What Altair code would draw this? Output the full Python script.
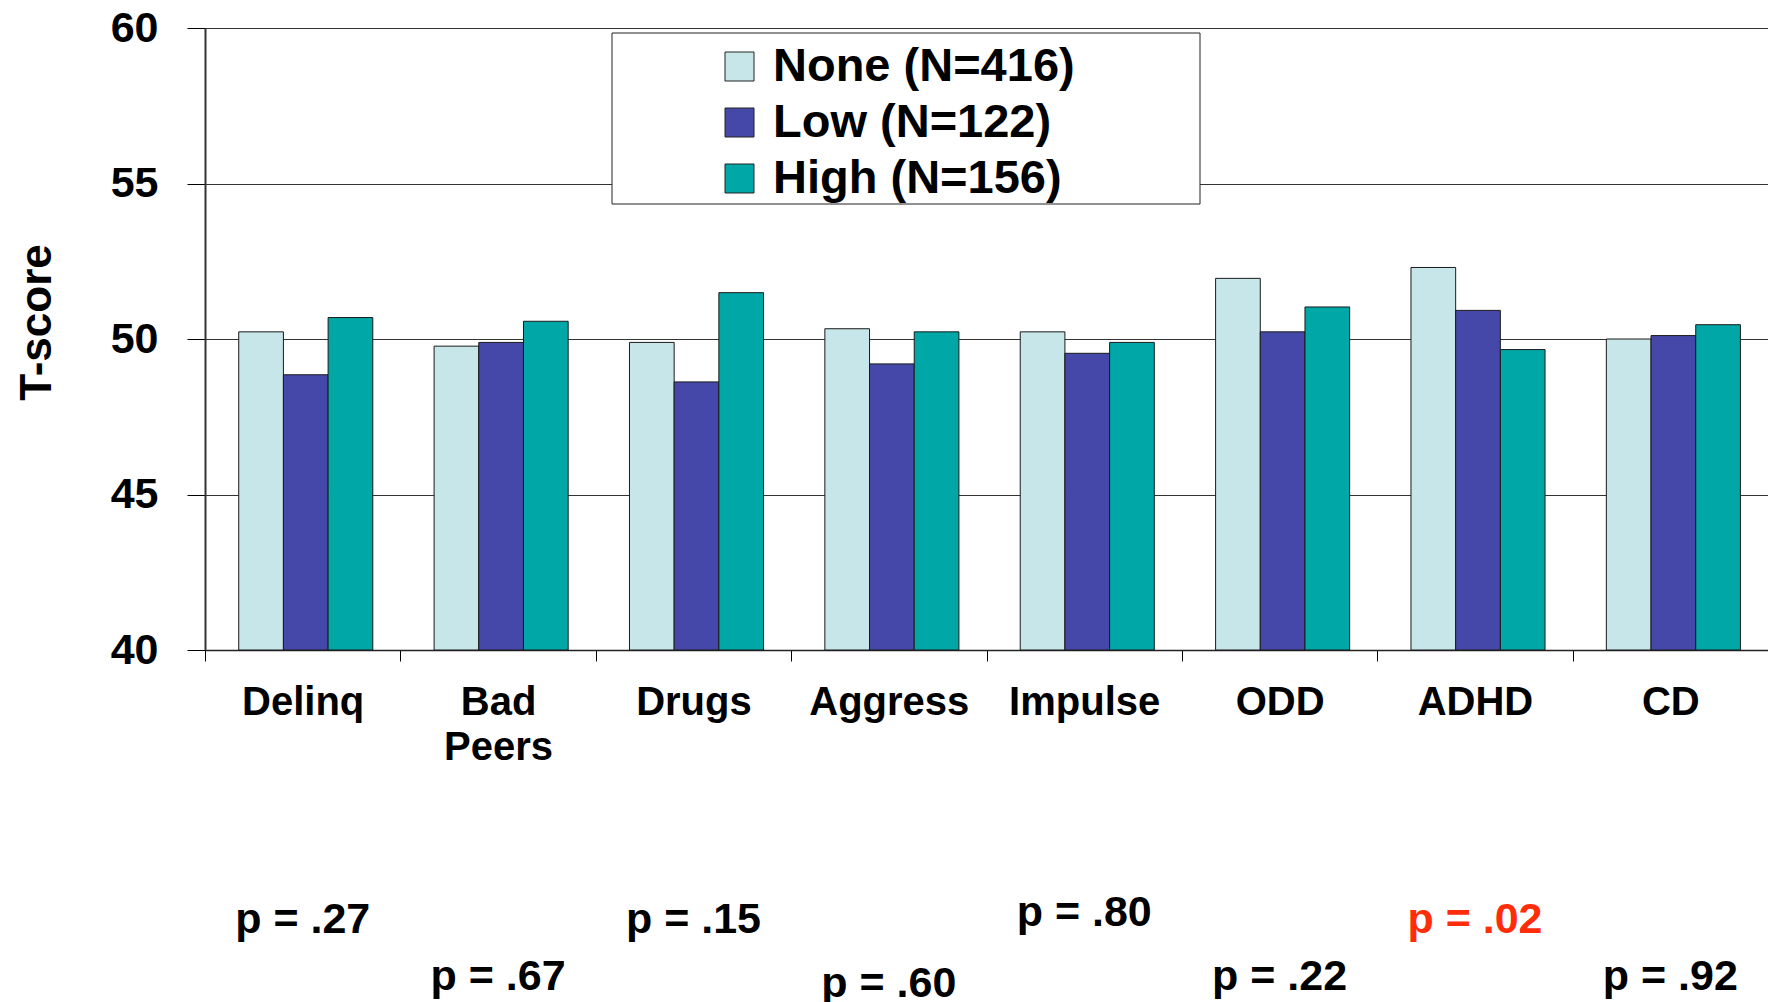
import altair as alt
import pandas as pd

categories = ["Delinq", "Bad Peers", "Drugs", "Aggress", "Impulse", "ODD", "ADHD", "CD"]
series = ["None (N=416)", "Low (N=122)", "High (N=156)"]
none_vals = [50.23, 49.77, 49.89, 50.33, 50.23, 51.95, 52.30, 50.00]
low_vals = [48.85, 49.89, 48.62, 49.20, 49.54, 50.23, 50.92, 50.11]
high_vals = [50.69, 50.57, 51.49, 50.23, 49.89, 51.03, 49.66, 50.46]
p_values = [0.27, 0.67, 0.15, 0.60, 0.80, 0.22, 0.02, 0.92]
p_rows = ["upper", "lower", "upper", "lowest", "top", "lower", "upper", "lower"]
colors = ["#C7E6E9", "#4548A9", "#00A7A7"]
y_ticks = [40, 45, 50, 55, 60]

FONT = "Liberation Sans"

rows = []
for i, c in enumerate(categories):
    for s, vals in zip(series, [none_vals, low_vals, high_vals]):
        rows.append({"category": c, "series": s, "value": vals[i]})
df = pd.DataFrame(rows)
p_df = pd.DataFrame({"category": categories, "p": p_values, "row": p_rows})

x_enc = alt.X(
    "category:N",
    sort=categories,
    scale=alt.Scale(paddingInner=0, paddingOuter=0),
    axis=alt.Axis(
        title=None,
        labelAngle=0,
        labelExpr="split(datum.label, ' ')",
        labelFontSize=40,
        labelFontWeight="bold",
        labelColor="#000000",
        labelPadding=21,
        labelLineHeight=45,
        labelLimit=400,
        labelOverlap=False,
        tickBand="extent",
        tickSize=11,
        tickColor="#000000",
        domainColor="#222222",
        domainWidth=1.5,
        grid=False,
    ),
)

bars = alt.Chart(df).mark_bar(stroke="#1a1a1a", strokeWidth=1).encode(
    x=x_enc,
    xOffset=alt.XOffset("series:N", sort=series,
                        scale=alt.Scale(paddingOuter=0.686, paddingInner=0, align=0.55)),
    y=alt.Y(
        "value:Q",
        scale=alt.Scale(domain=[40, 60], nice=False, zero=False),
        axis=alt.Axis(
            values=y_ticks,
            title="T-score",
            titleFontSize=44,
            titleFontWeight="bold",
            titleColor="#000000",
            titleX=-168,
            titleY=294,
            titleAngle=270,
            titleAlign="center",
            titleBaseline="middle",
            labelFontSize=43,
            labelFontWeight="bold",
            labelColor="#000000",
            labelPadding=29,
            tickSize=18,
            tickColor="#000000",
            domainColor="#333333",
            domainWidth=2,
            grid=True,
            gridColor="#333333",
            gridWidth=1,
        ),
    ),
    y2=alt.datum(40),
    color=alt.Color(
        "series:N",
        sort=series,
        scale=alt.Scale(domain=series, range=colors),
        legend=alt.Legend(
            title=None,
            orient="none",
            legendX=407,
            legendY=5,
            padding=10,
            symbolType="square",
            symbolSize=841,
            symbolStrokeColor="#222222",
            symbolStrokeWidth=1,
            symbolOffset=94,
            labelOffset=10,
            labelFontSize=47,
            labelFontWeight="bold",
            labelColor="#000000",
            labelLimit=800,
            rowPadding=8,
        ),
    ),
)

legend_box = alt.Chart(pd.DataFrame({"box": [0]})).mark_rect(
    fill="#FFFFFF", stroke="#222222", strokeWidth=1
).encode(x=alt.value(407), x2=alt.value(995), y=alt.value(5), y2=alt.value(176))

row_y = {"top": 898, "upper": 905, "lower": 962, "lowest": 969}

p_layers = []
for r, yv in row_y.items():
    p_layers.append(
        alt.Chart(p_df)
        .transform_filter(alt.datum.row == r)
        .transform_calculate(label="'p = ' + replace(format(datum.p, '.2f'), '0.', '.')")
        .mark_text(fontSize=43, fontWeight="bold", baseline="alphabetic", align="center")
        .encode(
            x=alt.X("category:N", sort=categories),
            y=alt.value(yv),
            text="label:N",
            color=alt.condition("datum.p < 0.05", alt.value("#FF2D0A"), alt.value("#000000")),
        )
    )

chart = (
    alt.layer(bars, legend_box, *p_layers)
    .properties(
        width=1563,
        height=622,
        padding={"left": 197, "top": 20, "right": 0, "bottom": 352},
        autosize=alt.AutoSizeParams(type="none"),
    )
    .configure(font=FONT)
    .configure_view(stroke="#222222", strokeWidth=1)
)

chart.save("out.html", embed_options={"renderer": "svg", "actions": False})
